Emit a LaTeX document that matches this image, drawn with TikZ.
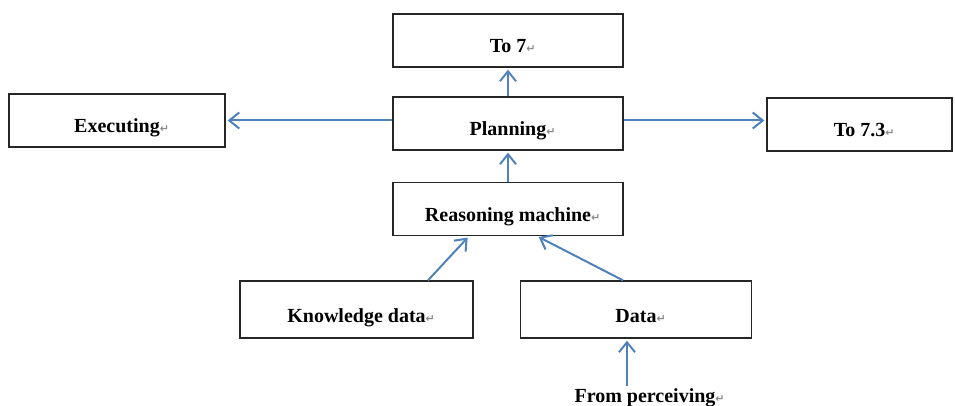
\documentclass[tikz,border=0pt]{standalone}
\usepackage{fontspec}
\setmainfont{Liberation Serif}
\newfontfamily\retfont{DejaVu Sans}
\usetikzlibrary{arrows.meta}
\definecolor{arrowblue}{RGB}{79,129,189}
\newcommand{\retmark}{\rlap{{\retfont\fontsize{11}{11}\selectfont\color{black!45}↵}}}
\tikzset{
  box/.style={draw=black!85, line width=1.3pt, rectangle, minimum height=53pt,
    inner sep=0pt, text height=24pt, text depth=0pt,
    font=\fontsize{20}{20}\selectfont\bfseries},
  conn/.style={draw=arrowblue, line width=2pt, shorten >=2pt,
    -{Straight Barb[length=10pt,width=16pt,line width=2pt]}},
}
\begin{document}
\begin{tikzpicture}[x=1pt,y=-1pt]
\useasboundingbox (0,0) rectangle (955,406);
\node[box, minimum width=230pt] (to7) at (508,40.5) {To 7\retmark};
\node[box, minimum width=230pt] (plan) at (508,123.5) {Planning\retmark};
\node[box, minimum width=216pt] (exec) at (117,120.5) {Executing\retmark};
\node[box, minimum width=185pt] (to73) at (859.5,124.5) {To 7.3\retmark};
\node[box, minimum width=230pt] (reason) at (508,209) {Reasoning machine\retmark};
\node[box, minimum width=233pt, minimum height=57pt, text height=26pt] (know) at (356.5,309.5) {Knowledge data\retmark};
\node[box, minimum width=231pt, minimum height=57pt, text height=26pt] (data) at (636,309.5) {Data\retmark};
\node[anchor=base, inner sep=0pt, font=\fontsize{20}{20}\selectfont\bfseries] (from) at (645,402) {From perceiving\retmark};
\coordinate (fromtop) at (627,386);

\draw[conn] (plan.north) -- (to7.south);
\draw[conn] (plan.west |- exec.east) -- (exec.east);
\draw[conn] (plan.east |- exec.east) -- (to73.west |- exec.east);
\draw[conn] (reason.north) -- (plan.south);
\draw[conn] ([xshift=71.5pt]know.north) -- ([xshift=-39pt]reason.south);
\draw[conn] ([xshift=-13pt]data.north) -- ([xshift=29pt]reason.south);
\draw[conn] (fromtop) -- (fromtop |- data.south);
\end{tikzpicture}
\end{document}
